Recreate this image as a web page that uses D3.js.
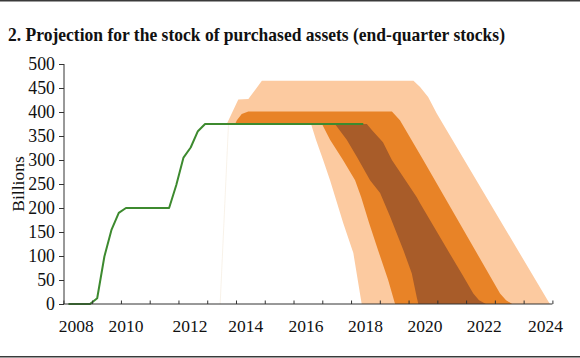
<!DOCTYPE html>
<html><head><meta charset="utf-8">
<script src="https://cdn.jsdelivr.net/npm/d3@7"></script>
<style>
html,body{margin:0;padding:0;background:#fff;}
svg{display:block;}
text{font-family:"Liberation Serif","Times New Roman",serif;fill:#111;}
</style></head>
<body>
<svg id="chart" width="580" height="358"></svg>
<script>
// ---- data ----
const title = "2. Projection for the stock of purchased assets (end-quarter stocks)";
const yLabel = "Billions";
const yTicks = [0, 50, 100, 150, 200, 250, 300, 350, 400, 450, 500];
const xTickYears = [2008,2009,2010,2011,2012,2013,2014,2015,2016,2017,2018,2019,2020,2021,2022,2023,2024,2025];
const xLabels = ["2008","2010","2012","2014","2016","2018","2020","2022","2024"];
const xLabelPos = [2008.45, 2010.18, 2012.40, 2014.34, 2016.43, 2018.50, 2020.57, 2022.63, 2024.76];

// end-quarter stock of purchased assets, 2008Q1 .. 2018Q2
const startYear = 2008;
const stock = [
  0, 0, 0, 0,
  12, 99, 155, 190,
  200, 200, 200, 200,
  200, 200, 200, 248,
  305, 326, 360, 375,
  375, 375, 375, 375,
  375, 375, 375, 375,
  375, 375, 375, 375,
  375, 375, 375, 375,
  375, 375, 375, 375,
  375, 375
];

// fan bands: [year, billions]
const lightUpper = [[2013.68,375],[2014.08,426],[2014.43,427],[2014.90,465],[2020.17,465],[2020.40,452],[2020.68,431],[2020.98,397],[2024.86,5],[2024.92,0]];
const lightLower = [[2013.68,375],[2016.61,375],[2016.78,342],[2017.03,300],[2017.27,258],[2017.73,168],[2018.08,106],[2018.37,0],[2024.92,0]];
const orangeUpper = [[2013.97,375],[2014.03,383],[2014.20,396],[2014.43,401],[2019.42,401],[2019.70,383],[2020.51,300],[2023.18,22],[2023.39,8],[2023.60,0]];
const orangeLower = [[2013.97,375],[2016.99,375],[2017.27,342],[2017.72,300],[2018.14,258],[2018.35,223],[2018.63,168],[2018.94,112],[2019.29,50],[2019.53,0],[2023.60,0]];
const brownUpper = [[2017.44,375],[2018.55,375],[2018.73,362],[2019.11,337],[2019.42,300],[2019.70,275],[2020.28,223],[2020.40,210],[2021.44,104],[2021.86,62],[2022.25,22],[2022.45,8],[2022.69,0]];
const brownLower = [[2017.44,375],[2017.85,342],[2018.20,307],[2018.66,258],[2019.01,231],[2019.36,182],[2019.59,147],[2019.82,112],[2020.11,64],[2020.28,15],[2020.34,0],[2022.69,0]];
const fanStartSliver = [[2013.45,0],[2013.74,375]];

// ---- drawing ----
const svg = d3.select("#chart");
const W = 580, H = 358;
const x = d3.scaleLinear().domain([2008, 2025]).range([63.4, 552.4]);
const y = d3.scaleLinear().domain([0, 500]).range([304, 64]);

// frame lines
svg.append("line").attr("x1",0).attr("x2",W).attr("y1",0.8).attr("y2",0.8)
  .attr("stroke","#3a3a3a").attr("stroke-width",1.6);
svg.append("line").attr("x1",0).attr("x2",W).attr("y1",356.8).attr("y2",356.8)
  .attr("stroke","#3a3a3a").attr("stroke-width",1.6);

// title
svg.append("text").attr("x",8).attr("y",41)
  .attr("textLength",497).attr("lengthAdjust","spacingAndGlyphs")
  .style("font-weight","bold").style("font-size","17.8px").text(title);

// fan
const line = d3.line().x(d=>x(d[0])).y(d=>y(d[1]));
function band(upper, lower, color){
  const pts = upper.concat(lower.slice().reverse());
  svg.append("path").attr("d", line(pts)+"Z").attr("fill", color).attr("stroke","none");
}
svg.append("path").attr("d", line(fanStartSliver)).attr("fill","none")
  .attr("stroke","#f6efe3").attr("stroke-width",0.8);
band(lightUpper, lightLower, "#fccaa0");
band(orangeUpper, orangeLower, "#e88327");
band(brownUpper, brownLower, "#a85c29");

// stock line
const stockPts = stock.map((v,i)=>[startYear + Math.floor(i/4) + ((i%4)+0.7)/4, v]);
svg.append("path").attr("d", line(stockPts)).attr("fill","none")
  .attr("stroke","#3d8a2f").attr("stroke-width",2).attr("stroke-linejoin","round");

// y axis
const yAxis = d3.axisLeft(y).tickValues(yTicks).tickSize(5).tickPadding(4).tickFormat(d3.format("d"));
const gy = svg.append("g").attr("transform","translate(64,0)").call(yAxis);
gy.select(".domain").attr("stroke","#333").attr("d","M0,64V304");
gy.selectAll(".tick line").attr("stroke","#333");
gy.selectAll(".tick text").style("font-size","17.8px").attr("fill","#111")
  .style("font-family",'"Liberation Serif","Times New Roman",serif');

// x axis
const xAxis = d3.axisBottom(x).tickValues(xTickYears).tickSize(-3.5).tickFormat("");
const gx = svg.append("g").attr("transform","translate(0,304)").call(xAxis);
gx.select(".domain").attr("stroke","#333").attr("d","M63.4,0H552.4");
gx.selectAll(".tick line").attr("stroke","#333");
svg.append("g").selectAll("text").data(xLabels).join("text")
  .attr("x",(d,i)=>x(xLabelPos[i])).attr("y",332)
  .attr("text-anchor","middle").style("font-size","17.5px").text(d=>d);

// y label
svg.append("text").attr("transform","translate(24,184) rotate(-90)")
  .attr("text-anchor","middle").style("font-size","17.5px").text(yLabel);
</script>
</body></html>
